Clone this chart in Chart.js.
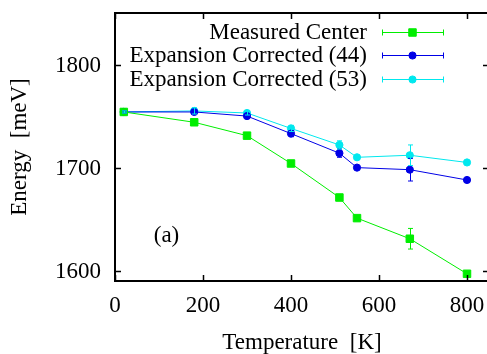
<!DOCTYPE html>
<html>
<head>
<meta charset="utf-8">
<script src="https://cdn.jsdelivr.net/npm/chart.js@4.4.0/dist/chart.umd.min.js"></script>
<style>
  html, body { margin: 0; padding: 0; background: #fff; overflow: hidden; }
  #wrap { width: 492px; height: 354px; }
</style>
</head>
<body>
<div id="wrap"><canvas id="energyChart" width="492" height="354"></canvas></div>
<script>
// temperatures [K]
const temps = [20, 180, 300, 400, 510, 550, 670, 800]

// energies [meV]
const measuredCenter = [1754, 1744, 1731, 1704, 1671, 1651, 1631, 1597]
const measuredErr    = [0, 1, 1, 1, 3, 1, 10, 1]
const corrected44    = [1754, 1754, 1750, 1733, 1714, 1700, 1698, 1688]
const corrected44Err = [1, 2, 2, 3, 4, 1, 11, 2]
const corrected53    = [1754, 1755, 1753, 1738, 1722, 1710, 1712, 1705]
const corrected53Err = [1, 3, 2, 3, 4, 2, 10, 1]

const xTicks = [0, 200, 400, 600, 800]
const yTicks = [1600, 1700, 1800]

const serif = '"Liberation Serif", serif'
const textFont = '23px ' + serif
Chart.defaults.font.family = serif
Chart.defaults.font.size = 23
Chart.defaults.color = '#000'

function toPoints(ys){
    return temps.map(function(t, i){ return {x: t, y: ys[i]} })
}

const series = [
    {label: 'Measured Center', values: measuredCenter, err: measuredErr, color: '#00ee00', style: 'rect', radius: 5.3},
    {label: 'Expansion Corrected (44)', values: corrected44, err: corrected44Err, color: '#0000e6', style: 'circle', radius: 3.6},
    {label: 'Expansion Corrected (53)', values: corrected53, err: corrected53Err, color: '#00e8ee', style: 'circle', radius: 3.6}
]

// gnuplot style frame, inward ticks, tick labels, error bars, legend and panel label
const gnuplotLook = {
    id: 'gnuplotLook',
    afterDatasetsDraw(chart){
        const ctx = chart.ctx
        const xs = chart.scales.x
        const ys = chart.scales.y
        const a = chart.chartArea

        ctx.save()
        // error bars
        series.forEach(function(s){
            ctx.strokeStyle = s.color
            ctx.lineWidth = 1
            temps.forEach(function(t, i){
                if (!s.err[i]) return
                const px = Math.round(xs.getPixelForValue(t)) + 0.5
                const y1 = ys.getPixelForValue(s.values[i] - s.err[i])
                const y2 = ys.getPixelForValue(s.values[i] + s.err[i])
                ctx.beginPath()
                ctx.moveTo(px, y1); ctx.lineTo(px, y2)
                ctx.moveTo(px - 2.5, y1); ctx.lineTo(px + 2.5, y1)
                ctx.moveTo(px - 2.5, y2); ctx.lineTo(px + 2.5, y2)
                ctx.stroke()
            })
        })

        // frame
        ctx.strokeStyle = '#000'
        ctx.lineWidth = 2
        ctx.strokeRect(a.left, a.top, a.right - a.left, a.bottom - a.top)

        // inward ticks on all four sides
        ctx.lineWidth = 1.5
        ctx.beginPath()
        xTicks.forEach(function(v){
            const px = Math.round(xs.getPixelForValue(v)) + 0.5
            ctx.moveTo(px, a.bottom); ctx.lineTo(px, a.bottom - 6)
            ctx.moveTo(px, a.top); ctx.lineTo(px, a.top + 6)
        })
        yTicks.forEach(function(v){
            const py = Math.round(ys.getPixelForValue(v)) + 0.5
            ctx.moveTo(a.left, py); ctx.lineTo(a.left + 6, py)
            ctx.moveTo(a.right, py); ctx.lineTo(a.right - 6, py)
        })
        ctx.stroke()

        // tick labels
        ctx.fillStyle = '#000'
        ctx.font = textFont
        ctx.textBaseline = 'middle'
        ctx.textAlign = 'center'
        xTicks.forEach(function(v){
            ctx.fillText(String(v), xs.getPixelForValue(v), a.bottom + 25)
        })
        ctx.textAlign = 'right'
        yTicks.forEach(function(v){
            ctx.fillText(String(v), a.left - 14, ys.getPixelForValue(v) + 1)
        })

        // panel label
        ctx.textAlign = 'center'
        ctx.fillText('(a)', xs.getPixelForValue(117), ys.getPixelForValue(1634))

        // legend
        const rowY = [32, 55, 79]
        series.forEach(function(s, i){
            const y = rowY[i]
            ctx.fillStyle = '#000'
            ctx.textAlign = 'right'
            ctx.fillText(s.label, 367, y + 1)
            ctx.strokeStyle = s.color
            ctx.lineWidth = 1
            ctx.beginPath()
            ctx.moveTo(382, y + 0.5); ctx.lineTo(443, y + 0.5)
            ctx.moveTo(382.5, y - 2.5); ctx.lineTo(382.5, y + 3.5)
            ctx.moveTo(443.5, y - 2.5); ctx.lineTo(443.5, y + 3.5)
            ctx.stroke()
            ctx.fillStyle = s.color
            Chart.helpers.drawPoint(ctx, {pointStyle: s.style, radius: s.radius, borderWidth: 1}, 412.5, y + 0.5)
        })
        ctx.restore()
    }
}

const ctx = document.getElementById('energyChart').getContext('2d')
const energyChart = new Chart(ctx, {
    type: 'scatter',
    data: {
        datasets: series.map(function(s){
            return {
                label: s.label,
                data: toPoints(s.values),
                showLine: true,
                borderColor: s.color,
                backgroundColor: s.color,
                borderWidth: 1,
                pointStyle: s.style,
                pointRadius: s.radius,
                pointBorderWidth: 1
            }
        })
    },
    options: {
        responsive: false,
        animation: false,
        layout: { autoPadding: false, padding: { top: 13, right: 3, left: 0, bottom: 0 } },
        plugins: {
            legend: { display: false },
            tooltip: { enabled: false }
        },
        scales: {
            x: {
                type: 'linear',
                min: 0,
                max: 850,
                afterBuildTicks: function(scale){ scale.ticks = xTicks.map(function(v){ return {value: v} }) },
                afterFit: function(scale){
                    scale.height = 73
                    scale.paddingLeft = 0
                    scale.paddingRight = 0
                },
                grid: { display: false, drawTicks: false },
                border: { display: false },
                ticks: { display: false },
                title: { display: true, text: 'Temperature  [K]', padding: 0, font: { size: 23, lineHeight: 1 } }
            },
            y: {
                type: 'linear',
                min: 1590,
                max: 1850,
                afterBuildTicks: function(scale){ scale.ticks = yTicks.map(function(v){ return {value: v} }) },
                afterFit: function(scale){
                    scale.width = 115
                    scale.paddingTop = 0
                    scale.paddingBottom = 0
                },
                grid: { display: false, drawTicks: false },
                border: { display: false },
                ticks: { display: false },
                title: { display: true, text: 'Energy  [meV]', padding: { top: 6 }, font: { size: 23 } }
            }
        }
    },
    plugins: [gnuplotLook]
})
</script>
</body>
</html>
